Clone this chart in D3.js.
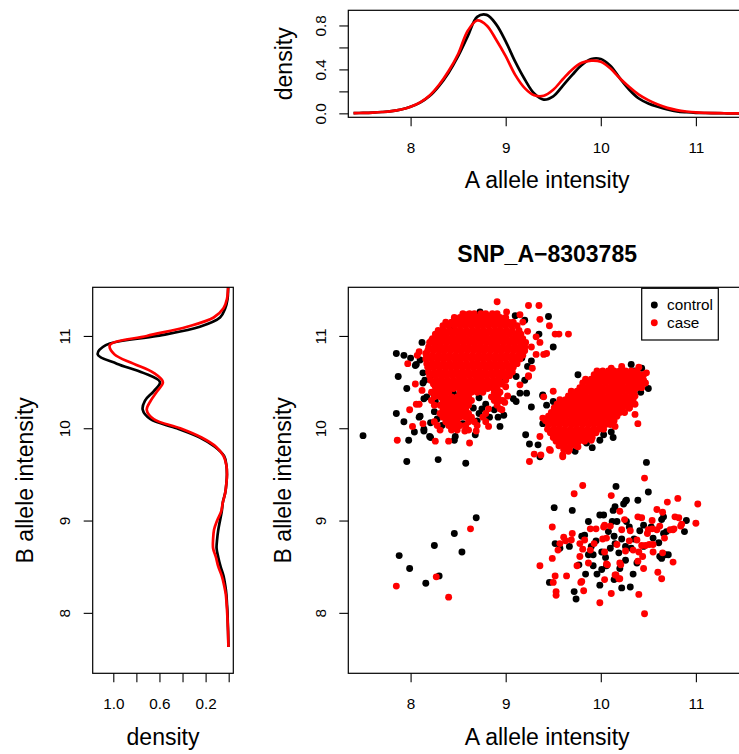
<!DOCTYPE html>
<html>
<head>
<meta charset="utf-8">
<script src="https://cdn.jsdelivr.net/npm/d3@7"></script>
<style>
  body { margin: 0; background: #fff; }
  svg { display: block; }
</style>
</head>
<body>
<svg id="chart" width="739" height="754"></svg>
<script>
// ---------- data ----------
const title = "SNP_A\u22128303785";
const seriesNames = ["control", "case"];
const seriesColors = ["#000000", "#ff0000"];
const axisTicks = [8, 9, 10, 11];
const axisTickLabels = ["8", "9", "10", "11"];
const topDensityTicks = [0, 0.2, 0.4, 0.6, 0.8];
const topDensityLabels = ["0.0", "", "0.4", "", "0.8"];
const sideDensityTicks = [1.0, 0.8, 0.6, 0.4, 0.2, 0.0];
const sideDensityLabels = ["1.0", "", "0.6", "", "0.2", ""];

// density of A allele intensity (top panel)
const gridA = [7.4, 7.5, 7.6, 7.7, 7.8, 7.9, 8.0, 8.1, 8.2, 8.3, 8.4, 8.5, 8.6, 8.7, 8.8, 8.9,
  9.0, 9.1, 9.2, 9.3, 9.4, 9.5, 9.6, 9.7, 9.8, 9.9, 10.0, 10.1, 10.2, 10.3, 10.4, 10.5,
  10.6, 10.7, 10.8, 10.9, 11.0, 11.1, 11.2, 11.3, 11.4, 11.5, 11.6];
const controlDensityA = [0.002, 0.004, 0.007, 0.012, 0.02, 0.035, 0.06, 0.097, 0.157, 0.25, 0.37, 0.52, 0.70, 0.878, 0.896, 0.81,
  0.655, 0.47, 0.31, 0.18, 0.125, 0.155, 0.25, 0.35, 0.44, 0.495, 0.495, 0.434, 0.32, 0.215, 0.135, 0.09,
  0.06, 0.036, 0.018, 0.01, 0.005, 0.003, 0.002, 0.001, 0, 0, 0];
const caseDensityA = [0.002, 0.004, 0.007, 0.012, 0.02, 0.035, 0.06, 0.10, 0.163, 0.26, 0.385, 0.54, 0.75, 0.845, 0.80, 0.67,
  0.52, 0.35, 0.23, 0.165, 0.16, 0.215, 0.31, 0.40, 0.46, 0.48, 0.47, 0.41, 0.32, 0.24, 0.17, 0.12,
  0.08, 0.05, 0.03, 0.017, 0.008, 0.004, 0.002, 0.001, 0, 0, 0];

// density of B allele intensity (side panel)
const gridB = [7.63, 7.7, 7.8, 7.9, 8.0, 8.1, 8.2, 8.3, 8.4, 8.5, 8.6, 8.7, 8.8, 8.9, 9.0, 9.1,
  9.2, 9.3, 9.4, 9.5, 9.6, 9.7, 9.8, 9.9, 10.0, 10.1, 10.2, 10.3, 10.4, 10.5, 10.6, 10.7,
  10.8, 10.9, 11.0, 11.1, 11.2, 11.3, 11.4, 11.5, 11.6];
const controlDensityB = [0.002, 0.003, 0.005, 0.008, 0.01, 0.015, 0.02, 0.03, 0.045, 0.07, 0.09, 0.105, 0.10, 0.09, 0.075, 0.06,
  0.05, 0.03, 0.02, 0.015, 0.02, 0.04, 0.12, 0.25, 0.45, 0.68, 0.745, 0.725, 0.65, 0.595, 0.74, 0.97,
  1.135, 1.065, 0.62, 0.25, 0.075, 0.03, 0.01, 0.005, 0.002];
const caseDensityB = [0.002, 0.004, 0.006, 0.009, 0.013, 0.018, 0.025, 0.04, 0.06, 0.09, 0.11, 0.135, 0.135, 0.127, 0.10, 0.065,
  0.05, 0.03, 0.02, 0.015, 0.02, 0.045, 0.11, 0.235, 0.42, 0.65, 0.71, 0.675, 0.62, 0.57, 0.65, 0.826,
  0.99, 1.03, 0.71, 0.36, 0.13, 0.045, 0.015, 0.006, 0.002];

// scatter: individual points as [A, B]
const controlPoints = [
  [7.50,9.92],[7.96,9.64],[8.29,9.66],[8.58,9.62],
  [7.85,10.81],[7.93,10.79],[8.00,10.76],[8.05,10.68],[8.13,10.60],[7.87,10.56],
  [7.96,10.43],[7.85,10.16],[7.93,10.07],[7.98,9.87],[8.04,9.96],[8.14,9.97],[8.21,10.06],[8.21,9.90],
  [8.09,10.12],[8.14,10.32],[8.26,10.29],[8.12,10.93],[8.29,10.97],[8.30,10.93],[8.33,11.02],[8.42,11.09],
  [8.62,11.17],[8.73,11.26],[8.06,10.69],[8.10,10.74],[8.15,10.52],[8.13,10.49],[8.17,10.34],[8.10,10.13],
  [8.14,9.99],[8.20,9.91],[8.46,9.87],[8.47,9.91],[8.68,9.93],[8.94,10.02],[8.98,10.14],[8.92,10.12],
  [9.00,10.53],[9.22,10.38],[9.20,10.52],[9.08,10.32],[9.11,10.56],[9.23,10.67],[9.17,10.76],[9.27,10.73],
  [9.45,11.21],[9.50,10.88],[9.35,11.02],[9.10,11.22],[9.20,11.17],[9.39,10.35],
  [8.66,10.22],[8.72,10.16],[8.79,10.26],[8.70,10.08],[8.83,10.12],[8.75,10.21],[8.88,10.20],[8.25,10.18],
  [8.28,10.10],[8.33,10.03],[8.24,10.38],[8.30,10.45],[8.22,10.58],[8.55,10.05],[8.45,10.38],[8.72,10.33],
  [8.69,9.03],[8.46,8.86],[8.25,8.73],[7.88,8.62],[8.54,8.66],[7.99,8.48],[8.30,8.40],[8.16,8.32],
  [10.32,10.69],[10.43,10.65],[9.76,10.58],[9.39,10.36],[9.27,10.23],[9.43,10.25],[9.21,9.93],[9.25,9.83],
  [9.34,9.82],[9.91,9.79],[9.99,9.87],[10.13,9.90],[10.50,10.43],[10.42,10.39],[9.73,9.75],[9.50,10.29],
  [9.15,10.38],[9.11,10.29],[9.36,9.69],[10.11,9.96],[10.03,9.93],[9.85,9.84],[9.39,10.05],[10.35,10.62],
  [10.48,9.63],[10.16,9.37],[10.50,9.31],[10.26,9.21],[10.39,9.22],[10.15,9.15],[9.51,9.14],[9.70,9.11],
  [9.99,9.06],[10.03,9.06],[10.17,8.99],[10.27,8.99],[10.64,9.01],[10.90,9.00],[10.88,8.88],[9.87,8.99],
  [9.52,8.75],[9.67,8.72],[9.80,8.83],[9.90,8.72],[9.92,8.63],[10.01,8.66],[10.14,8.83],[10.15,8.75],
  [10.26,8.72],[10.19,8.65],[10.26,8.57],[10.41,8.89],[10.55,8.81],[10.66,8.86],[10.64,8.59],[10.71,8.63],
  [10.45,8.72],[10.38,8.54],[10.06,8.51],[9.92,8.51],[9.77,8.52],[10.34,8.42],[10.14,8.36],[9.99,8.30],
  [10.22,8.27],[10.31,8.28],[9.72,8.23],[9.74,8.15],[9.46,8.33],[10.53,8.93],[10.24,9.18],[10.13,9.11],
  [10.66,9.04],[10.69,8.88],[10.61,8.76],[10.68,8.63],[10.62,8.61],[10.12,8.99],[10.30,8.93],[10.01,8.47],
  [9.87,8.63],[9.83,8.84],[9.57,8.70],[10.08,8.88],[10.22,8.80],[10.32,8.70],[9.95,8.78],[10.05,8.60],
  [10.20,8.48],[9.84,8.42],[10.35,8.80],[10.45,8.95],[10.10,8.70],[9.96,8.42],[10.27,9.22]
];
const casePoints = [
  [8.63,8.91],[8.27,8.39],[7.85,8.29],[8.40,8.17],
  [8.91,11.37],[9.24,11.33],[9.35,11.33],[9.36,11.18],[9.46,11.11],[9.52,11.02],[9.56,11.02],[9.66,11.02],
  [8.59,11.23],[8.76,11.22],[8.86,11.22],[9.01,11.26],[9.15,11.23],[9.18,11.15],[9.36,10.93],[9.32,10.99],
  [9.40,10.80],[9.43,10.81],[9.32,10.80],[9.24,10.56],[9.15,10.47],[7.97,10.70],[8.07,10.79],[8.09,10.83],
  [8.16,10.81],[8.22,10.95],[8.05,10.48],[8.06,10.26],[8.09,10.26],[7.99,10.20],[8.02,10.02],[8.13,10.05],
  [7.86,9.87],[8.26,9.86],[8.40,9.86],[8.62,9.84],[8.82,10.02],[8.96,10.20],[8.12,10.41],[8.26,10.45],
  [8.99,10.28],[9.00,10.45],[9.02,10.35],[8.57,9.97],[8.69,9.97],[9.27,10.88],[9.23,11.05],[9.28,10.65],
  [8.92,10.36],[8.97,10.30],
  [10.39,10.05],[10.36,10.15],[10.15,10.02],[9.90,9.87],[9.76,9.80],[9.66,9.75],[9.60,9.71],[9.46,9.77],
  [9.36,9.91],[9.39,10.11],[9.50,10.40],[9.25,9.64],[9.30,9.72],[9.37,9.71],[10.48,10.60],[10.40,10.66],
  [10.30,10.22],[9.47,9.76],[10.46,9.46],[9.24,10.57],[9.40,10.34],[9.60,9.69],[10.22,10.67],[10.11,10.65],
  [10.45,10.52],
  [9.81,9.38],[9.72,9.29],[10.11,9.27],[9.49,8.93],[9.89,8.91],[9.95,8.91],[10.04,8.95],[10.10,8.94],
  [10.20,9.10],[10.25,9.01],[10.43,9.03],[10.54,9.00],[10.59,9.12],[10.65,9.09],[10.70,9.20],[10.81,9.24],
  [11.02,9.18],[11.00,8.97],[10.84,8.94],[10.76,8.90],[10.67,8.81],[10.59,8.90],[10.62,8.94],[10.50,8.90],
  [10.38,8.79],[10.31,8.89],[10.43,8.73],[10.47,8.73],[10.55,8.66],[10.60,8.44],[10.64,8.37],[10.76,8.55],
  [10.34,8.68],[10.26,8.67],[10.17,8.74],[10.06,8.81],[9.89,8.68],[9.81,8.69],[9.78,8.75],[9.83,8.79],
  [9.69,8.79],[9.63,8.78],[9.57,8.75],[9.55,8.68],[9.49,8.59],[9.36,8.51],[9.64,8.40],[9.52,8.40],
  [9.50,8.33],[9.53,8.23],[9.53,8.19],[9.78,8.61],[9.75,8.51],[9.79,8.33],[9.82,8.24],[9.87,8.54],
  [9.99,8.11],[10.04,8.36],[10.11,8.21],[10.16,8.41],[10.19,8.37],[10.21,8.52],[10.40,8.20],[10.46,7.99],
  [10.06,8.53],[10.39,9.04],[10.03,8.93],[10.04,8.66],[10.07,8.52],[9.80,8.34],[10.78,9.04],[10.82,9.03],
  [10.85,8.96],[10.77,8.91],[10.73,8.90],[10.54,8.91],[10.49,8.86],[10.51,8.74],[10.55,8.74],[10.65,8.65],
  [10.40,8.66],[10.44,8.61],[10.39,8.56],[10.45,8.48],[10.20,8.54],[10.15,8.41],[10.20,8.37],[10.02,8.80],
  [9.93,8.75],[9.70,8.86],[9.61,8.82],[10.30,8.78],[10.22,8.90]
];

// scatter: densely packed case points, each row is [B, [A, A, ...]]
const caseRows = [
  // upper-left cluster
  [11.24, [8.55, 8.62, 8.67, 8.74, 8.79, 8.86, 8.91]],
  [11.20, [8.46, 8.52, 8.58, 8.64, 8.70, 8.76, 8.82, 8.88, 8.94, 9.00]],
  [11.15, [8.37, 8.43, 8.49, 8.55, 8.61, 8.67, 8.73, 8.79, 8.85, 8.91, 8.97, 9.03, 9.08]],
  [11.11, [8.34, 8.40, 8.46, 8.52, 8.58, 8.64, 8.70, 8.76, 8.82, 8.88, 8.94, 9.00, 9.06, 9.12]],
  [11.06, [8.29, 8.35, 8.41, 8.47, 8.53, 8.59, 8.65, 8.71, 8.77, 8.83, 8.89, 8.95, 9.01, 9.07, 9.14]],
  [11.02, [8.26, 8.32, 8.38, 8.44, 8.50, 8.56, 8.62, 8.68, 8.74, 8.80, 8.86, 8.92, 8.98, 9.04, 9.10, 9.16]],
  [10.97, [8.23, 8.29, 8.35, 8.41, 8.47, 8.53, 8.59, 8.65, 8.71, 8.77, 8.83, 8.89, 8.95, 9.01, 9.07, 9.13, 9.18]],
  [10.93, [8.20, 8.26, 8.32, 8.38, 8.44, 8.50, 8.56, 8.62, 8.68, 8.74, 8.80, 8.86, 8.92, 8.98, 9.04, 9.10, 9.16, 9.21]],
  [10.88, [8.19, 8.25, 8.31, 8.37, 8.43, 8.49, 8.55, 8.61, 8.67, 8.73, 8.79, 8.85, 8.91, 8.97, 9.03, 9.09, 9.15, 9.20]],
  [10.84, [8.18, 8.24, 8.30, 8.36, 8.42, 8.48, 8.54, 8.60, 8.66, 8.72, 8.78, 8.84, 8.90, 8.96, 9.02, 9.08, 9.14, 9.20]],
  [10.79, [8.17, 8.23, 8.29, 8.35, 8.41, 8.47, 8.53, 8.59, 8.65, 8.71, 8.77, 8.83, 8.89, 8.95, 9.01, 9.07, 9.13, 9.18]],
  [10.75, [8.16, 8.22, 8.28, 8.34, 8.40, 8.46, 8.52, 8.58, 8.64, 8.70, 8.76, 8.82, 8.88, 8.94, 9.00, 9.06, 9.12, 9.15]],
  [10.70, [8.17, 8.23, 8.29, 8.35, 8.41, 8.47, 8.53, 8.59, 8.65, 8.71, 8.77, 8.83, 8.89, 8.95, 9.01, 9.07, 9.12]],
  [10.66, [8.18, 8.24, 8.30, 8.36, 8.42, 8.48, 8.54, 8.60, 8.66, 8.72, 8.78, 8.84, 8.90, 8.96, 9.02, 9.08]],
  [10.61, [8.19, 8.25, 8.31, 8.37, 8.43, 8.49, 8.55, 8.61, 8.67, 8.73, 8.79, 8.85, 8.91, 8.97, 9.03, 9.07]],
  [10.57, [8.20, 8.26, 8.32, 8.38, 8.44, 8.50, 8.56, 8.62, 8.68, 8.74, 8.80, 8.86, 8.92, 8.98, 9.04]],
  [10.52, [8.21, 8.27, 8.33, 8.39, 8.45, 8.51, 8.57, 8.63, 8.69, 8.75, 8.81, 8.87, 8.93, 9.00]],
  [10.48, [8.24, 8.30, 8.36, 8.42, 8.48, 8.54, 8.60, 8.66, 8.72, 8.78, 8.84, 8.90, 8.96]],
  [10.43, [8.27, 8.33, 8.39, 8.45, 8.51, 8.57, 8.63, 8.69, 8.75, 8.81, 8.87, 8.91]],
  [10.39, [8.22, 8.28, 8.34, 8.40, 8.52, 8.58, 8.64, 8.70, 8.76, 8.88, 8.94]],
  [10.34, [8.25, 8.31, 8.37, 8.43, 8.49, 8.55, 8.61, 8.85, 8.91]],
  [10.30, [8.22, 8.34, 8.40, 8.46, 8.52, 8.58, 8.64, 8.88, 8.94]],
  [10.25, [8.25, 8.31, 8.37, 8.43, 8.49, 8.55, 8.61, 8.91]],
  [10.21, [8.34, 8.40, 8.46, 8.52, 8.58, 8.82, 8.94]],
  [10.16, [8.31, 8.37, 8.43, 8.49, 8.55, 8.61, 8.79]],
  [10.12, [8.34, 8.40, 8.46, 8.52, 8.58, 8.64, 8.76]],
  [10.07, [8.25, 8.37, 8.43, 8.49, 8.61, 8.67, 8.79]],
  [10.03, [8.28, 8.40, 8.46, 8.52, 8.58, 8.70]],
  [9.98, [8.31, 8.43, 8.49, 8.61]],
  // middle cluster
  [10.62, [9.96, 10.02, 10.08, 10.14, 10.20, 10.26, 10.32, 10.38]],
  [10.58, [9.93, 9.99, 10.05, 10.11, 10.17, 10.23, 10.29, 10.35, 10.41, 10.45]],
  [10.53, [9.84, 9.90, 9.96, 10.02, 10.08, 10.14, 10.20, 10.26, 10.32, 10.38, 10.44]],
  [10.49, [9.81, 9.87, 9.93, 9.99, 10.05, 10.11, 10.17, 10.23, 10.29, 10.35, 10.41, 10.47]],
  [10.44, [9.78, 9.84, 9.90, 9.96, 10.02, 10.08, 10.14, 10.20, 10.26, 10.32, 10.38, 10.43]],
  [10.40, [9.69, 9.75, 9.81, 9.87, 9.93, 9.99, 10.05, 10.11, 10.17, 10.23, 10.29, 10.35]],
  [10.35, [9.66, 9.72, 9.78, 9.84, 9.90, 9.96, 10.02, 10.08, 10.14, 10.20, 10.26, 10.32, 10.36]],
  [10.31, [9.57, 9.63, 9.69, 9.75, 9.81, 9.87, 9.93, 9.99, 10.05, 10.11, 10.17, 10.23, 10.29, 10.34]],
  [10.26, [9.54, 9.60, 9.66, 9.72, 9.78, 9.84, 9.90, 9.96, 10.02, 10.08, 10.14, 10.20, 10.26, 10.32, 10.36]],
  [10.22, [9.51, 9.57, 9.63, 9.69, 9.75, 9.81, 9.87, 9.93, 9.99, 10.05, 10.11, 10.17, 10.23, 10.30]],
  [10.17, [9.48, 9.54, 9.60, 9.66, 9.72, 9.78, 9.84, 9.90, 9.96, 10.02, 10.08, 10.14, 10.20, 10.25]],
  [10.13, [9.45, 9.51, 9.57, 9.63, 9.69, 9.75, 9.81, 9.87, 9.93, 9.99, 10.05, 10.11, 10.17]],
  [10.08, [9.42, 9.48, 9.54, 9.60, 9.66, 9.72, 9.78, 9.84, 9.90, 9.96, 10.02, 10.08, 10.14]],
  [10.04, [9.45, 9.51, 9.57, 9.63, 9.69, 9.75, 9.81, 9.87, 9.93, 9.99, 10.05, 10.10]],
  [9.99, [9.44, 9.50, 9.56, 9.62, 9.68, 9.74, 9.80, 9.86, 9.92, 9.98, 10.03]],
  [9.95, [9.47, 9.53, 9.59, 9.65, 9.71, 9.77, 9.83, 9.89, 9.95]],
  [9.90, [9.50, 9.56, 9.62, 9.68, 9.74, 9.80, 9.86, 9.91]],
  [9.86, [9.53, 9.59, 9.65, 9.71, 9.77, 9.83]],
  [9.81, [9.56, 9.62, 9.68, 9.74]],
  [9.77, [9.61, 9.67]]
];

// ---------- layout ----------
const FONT = '"Liberation Sans", Arial, Helvetica, sans-serif';
const TICK_FS = 15.3, LAB_FS = 23;
const DOT_R = 3.45;
const lim = [7.345, 11.527];
const mainP = { left: 348.3, right: 746, top: 287.3, bottom: 673.3 };
const topP = { left: 348.3, right: 746, top: 10.3, bottom: 117.3 };
const sideP = { left: 92.7, right: 233.3, top: 287.3, bottom: 673.3 };

const x = d3.scaleLinear(lim, [mainP.left, mainP.right]);
const y = d3.scaleLinear(lim, [mainP.bottom, mainP.top]);
const yTop = d3.scaleLinear([-0.036, 0.938], [topP.bottom, topP.top]);
const xSide = d3.scaleLinear([1.1785, -0.04], [sideP.left, sideP.right]);

const svg = d3.select("#chart");
svg.append("rect").attr("width", 739).attr("height", 754).attr("fill", "#fff");

const defs = svg.append("defs");
function clip(id, p) {
  defs.append("clipPath").attr("id", id).append("rect")
    .attr("x", p.left).attr("y", p.top)
    .attr("width", p.right - p.left).attr("height", p.bottom - p.top);
  return `url(#${id})`;
}
const clipMain = clip("clip-main", mainP);
const clipTop = clip("clip-top", topP);
const clipSide = clip("clip-side", sideP);

function box(p) {
  svg.append("rect").attr("x", p.left).attr("y", p.top)
    .attr("width", p.right - p.left).attr("height", p.bottom - p.top)
    .attr("fill", "none").attr("stroke", "#000").attr("stroke-width", 1.2);
}

function bottomAxis(scale, yPos, ticks, labels) {
  const g = svg.append("g").attr("transform", `translate(0,${yPos})`)
    .call(d3.axisBottom(scale).tickValues(ticks).tickSize(9).tickFormat((d, i) => labels[i]));
  g.select(".domain").remove();
  g.selectAll(".tick line").attr("stroke", "#000").attr("stroke-width", 1.1);
  g.selectAll(".tick text").attr("y", 35.5).attr("dy", null)
    .attr("font-size", TICK_FS).attr("font-family", FONT).attr("fill", "#000");
}

function leftAxis(scale, xPos, ticks, labels) {
  const g = svg.append("g").attr("transform", `translate(${xPos},0)`)
    .call(d3.axisLeft(scale).tickValues(ticks).tickSize(9).tickFormat((d, i) => labels[i]));
  g.select(".domain").remove();
  g.selectAll(".tick line").attr("stroke", "#000").attr("stroke-width", 1.1);
  g.selectAll(".tick text").attr("x", null).attr("dy", null)
    .attr("transform", "translate(-22.8,0) rotate(-90)")
    .attr("text-anchor", "middle")
    .attr("font-size", TICK_FS).attr("font-family", FONT).attr("fill", "#000");
}

function label(txt, tx, ty, rot, opts = {}) {
  svg.append("text")
    .attr("transform", `translate(${tx},${ty})` + (rot ? " rotate(-90)" : ""))
    .attr("text-anchor", "middle")
    .attr("font-family", FONT)
    .attr("font-size", opts.size || LAB_FS)
    .attr("font-weight", opts.weight || "normal")
    .attr("fill", "#000")
    .text(txt);
}

const smooth = d3.curveCatmullRom.alpha(0.5);

// ---------- top panel: density of A ----------
const topLine = d3.line().x(d => x(d[0])).y(d => yTop(d[1])).curve(smooth);
const gTop = svg.append("g").attr("clip-path", clipTop);
[controlDensityA, caseDensityA].forEach((vals, k) => {
  gTop.append("path")
    .datum(gridA.map((a, i) => [a, vals[i]]))
    .attr("d", topLine)
    .attr("fill", "none").attr("stroke", seriesColors[k])
    .attr("stroke-width", 2.7).attr("stroke-linejoin", "round");
});
box(topP);
bottomAxis(x, topP.bottom, axisTicks, axisTickLabels);
leftAxis(yTop, topP.left, topDensityTicks, topDensityLabels);
label("A allele intensity", (topP.left + topP.right) / 2, 187.5, false);
label("density", 292, (topP.top + topP.bottom) / 2, true);

// ---------- side panel: density of B ----------
const sideLine = d3.line().x(d => xSide(d[1])).y(d => y(d[0])).curve(smooth);
const gSide = svg.append("g").attr("clip-path", clipSide);
[controlDensityB, caseDensityB].forEach((vals, k) => {
  gSide.append("path")
    .datum(gridB.map((b, i) => [b, vals[i]]))
    .attr("d", sideLine)
    .attr("fill", "none").attr("stroke", seriesColors[k])
    .attr("stroke-width", 2.7).attr("stroke-linejoin", "round");
});
box(sideP);
bottomAxis(xSide, sideP.bottom, sideDensityTicks, sideDensityLabels);
leftAxis(y, sideP.left, axisTicks, axisTickLabels);
label("density", (sideP.left + sideP.right) / 2, 744.5, false);
label("B allele intensity", 33.3, (sideP.top + sideP.bottom) / 2, true);

// ---------- main panel: scatter ----------
const caseAll = caseRows.flatMap(([b, as]) => as.map(a => [a, b])).concat(casePoints);
const gMain = svg.append("g").attr("clip-path", clipMain);
[controlPoints, caseAll].forEach((pts, k) => {
  gMain.append("g").selectAll("circle").data(pts).join("circle")
    .attr("cx", d => x(d[0])).attr("cy", d => y(d[1]))
    .attr("r", DOT_R).attr("fill", seriesColors[k]);
});
box(mainP);
bottomAxis(x, mainP.bottom, axisTicks, axisTickLabels);
leftAxis(y, mainP.left, axisTicks, axisTickLabels);
label("A allele intensity", (mainP.left + mainP.right) / 2, 744.5, false);
label("B allele intensity", 291, (mainP.top + mainP.bottom) / 2, true);
label(title, (mainP.left + mainP.right) / 2, 262, false, { size: 23, weight: "bold" });

// legend
const leg = svg.append("g").attr("transform", `translate(${mainP.left + 293.4},${mainP.top + 1})`);
leg.append("rect").attr("width", 76.6).attr("height", 51.7)
  .attr("fill", "#fff").attr("stroke", "#000").attr("stroke-width", 1.2);
seriesNames.forEach((name, k) => {
  const row = leg.append("g").attr("transform", `translate(0,${16.7 + k * 17.7})`);
  row.append("circle").attr("cx", 12.6).attr("cy", 0).attr("r", DOT_R).attr("fill", seriesColors[k]);
  row.append("text").attr("x", 25.3).attr("y", 5.3)
    .attr("font-family", FONT).attr("font-size", TICK_FS).attr("fill", "#000").text(name);
});
</script>
</body>
</html>
